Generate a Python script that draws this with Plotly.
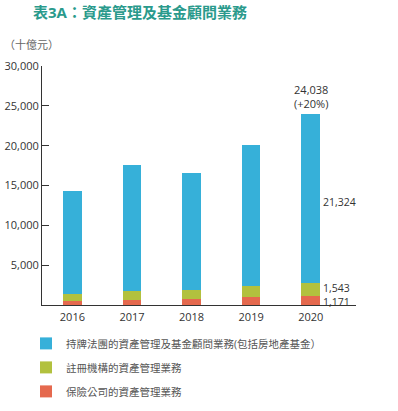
import plotly.graph_objects as go

years = ["2016", "2017", "2018", "2019", "2020"]
insurance = [520, 660, 790, 1030, 1171]          # 保險公司
registered = [850, 1090, 1080, 1370, 1543]       # 註冊機構
licensed = [12900, 15830, 14700, 17700, 21324]   # 持牌法團
growth_label = "(+20%)"

names = ["保險公司的資產管理業務", "註冊機構的資產管理業務",
         "持牌法團的資產管理及基金顧問業務(包括房地產基金）"]
colors = ["#e5694e", "#b2c13e", "#36b0d9"]
ranks = [3, 2, 1]
yticks = [5000, 10000, 15000, 20000, 25000, 30000]

FONT = "Open Sans, Noto Sans CJK TC, sans-serif"
W, H = 398, 411
L, R, T, B = 42, 42, 65.5, 105.5
pw, ph = W - L - R, H - T - B

fig = go.Figure()
for vals, name, col, rk in zip([insurance, registered, licensed], names, colors, ranks):
    fig.add_trace(go.Bar(x=years, y=vals, name=name, marker_color=col,
                         marker_line_width=0, width=0.31, legendrank=rk,
                         legendgroup=name))

totals = [a + b + c for a, b, c in zip(insurance, registered, licensed)]
last = len(years) - 1
ann = []
ann.append(dict(x=last, y=totals[last], xref="x", yref="y",
                text=f"{totals[last]:,}<br>{growth_label}", showarrow=False,
                yanchor="bottom", yshift=1, font=dict(size=11, color="#333")))
mids = [insurance[last] / 2,
        insurance[last] + registered[last] / 2,
        insurance[last] + registered[last] + licensed[last] / 2]
for v, m, ys in zip([insurance[last], registered[last], licensed[last]], mids, [-2, 2, -4]):
    ann.append(dict(x=last, y=m, xref="x", yref="y", text=f"{v:,}",
                    showarrow=False, xanchor="left", xshift=10, yshift=ys,
                    font=dict(size=10.5, color="#333")))
ann.append(dict(x=(2 - L) / pw, y=(H - B - 43.5) / ph, xref="paper", yref="paper",
                text="（十億元）", showarrow=False, xanchor="left", yanchor="middle",
                font=dict(size=11, color="#666")))

fig.update_layout(
    width=W, height=H,
    margin=dict(l=L, r=R, t=T, b=B, pad=0, autoexpand=False),
    paper_bgcolor="white", plot_bgcolor="white",
    barmode="stack",
    font=dict(family=FONT, size=11, color="#333"),
    title=dict(text="<b>表3A：資產管理及基金顧問業務</b>", xref="container", yref="container",
               x=33 / W, xanchor="left", y=1 - 13 / H, yanchor="middle",
               font=dict(size=15, color="#2a9a8c", family=FONT)),
    xaxis=dict(type="category", range=[-0.51, 4.76], showgrid=False, ticks="",
               showline=True, linecolor="#333", linewidth=1, tickfont=dict(size=11, color="#333"),
               ticklabelstandoff=2, automargin=False),
    yaxis=dict(range=[0, 30000], tickvals=yticks, tickformat=",", showgrid=False,
               zeroline=False, showline=True, linecolor="#333", linewidth=1,
               ticks="inside", ticklen=7, tickcolor="#333", automargin=False,
               tickfont=dict(size=11, color="#333")),
    legend=dict(orientation="v", x=(26 - L) / pw, xanchor="left", y=(H - B - 329.5) / ph,
                yanchor="top", traceorder="grouped", tracegroupgap=5,
                font=dict(size=10.5, color="#555"), bgcolor="rgba(0,0,0,0)"),
    annotations=ann,
    bargap=0,
)

fig.write_html("out.html", config={"displayModeBar": False},
               post_script="document.body.style.margin='0';document.body.style.overflow='hidden';")
